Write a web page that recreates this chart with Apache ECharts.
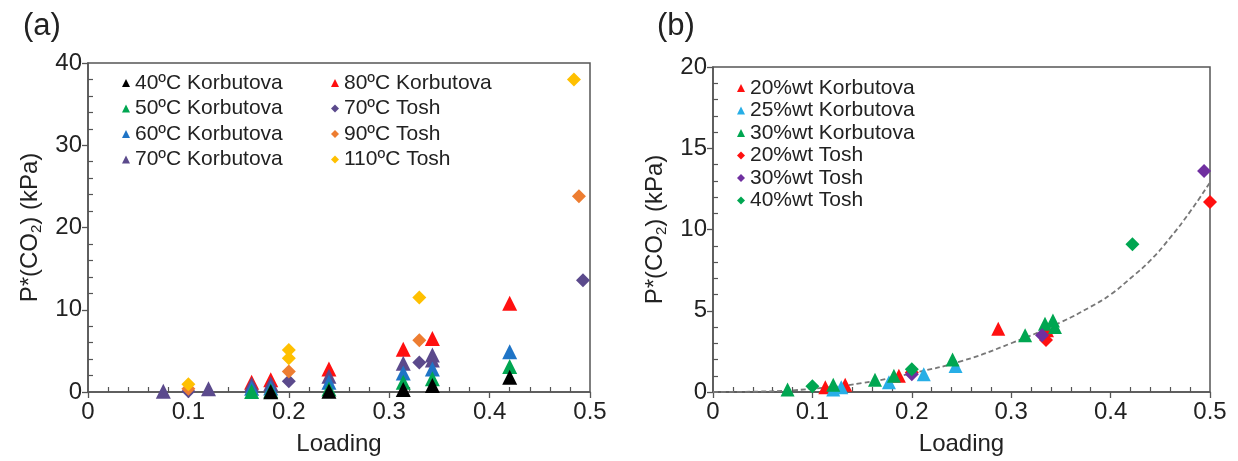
<!DOCTYPE html>
<html><head><meta charset="utf-8">
<script src="https://cdn.jsdelivr.net/npm/echarts@6/dist/echarts.min.js"></script>
<style>html,body{margin:0;padding:0;background:#fff}#c{width:1238px;height:461px}</style>
</head><body><div id="c"></div>
<script>
// ---- Panel (a) data: [loading, P*(CO2) kPa]
const k40 = [[0.182,0.03],[0.24,0.1],[0.314,0.3],[0.343,0.8],[0.42,1.8]];
const k50 = [[0.163,0.05],[0.182,0.15],[0.24,0.35],[0.314,1.2],[0.343,1.6],[0.42,3.1]];
const k60 = [[0.163,0.45],[0.182,0.5],[0.24,1.2],[0.314,2.3],[0.343,2.8],[0.42,4.9]];
const k70 = [[0.075,0.1],[0.12,0.4],[0.163,0.9],[0.182,1.0],[0.24,1.9],[0.314,3.5],[0.343,3.9],[0.343,4.5]];
const k80 = [[0.163,1.2],[0.182,1.5],[0.24,2.8],[0.314,5.2],[0.343,6.5],[0.42,10.8]];
const t70 = [[0.1,0.1],[0.2,1.3],[0.33,3.6],[0.493,13.6]];
const t90 = [[0.1,0.4],[0.2,2.5],[0.33,6.3],[0.489,23.8]];
const t110 = [[0.1,0.95],[0.2,4.1],[0.2,5.1],[0.33,11.5],[0.484,38]];
// ---- Panel (b) data
const w20k = [[0.113,0.3],[0.133,0.45],[0.187,1.0],[0.287,3.9],[0.336,3.8]];
const w25k = [[0.121,0.15],[0.129,0.3],[0.177,0.6],[0.212,1.1],[0.244,1.6]];
const w30k = [[0.075,0.15],[0.121,0.45],[0.163,0.75],[0.182,1.0],[0.241,2.0],[0.314,3.5],[0.334,4.2],[0.342,4.4],[0.344,4.0]];
const w20t = [[0.2,1.2],[0.335,3.2],[0.5,11.7]];
const w30t = [[0.2,1.1],[0.331,3.5],[0.494,13.6]];
const w40t = [[0.1,0.35],[0.2,1.4],[0.422,9.1]];
const fitCurve = [[0,0],[0.05,0.03],[0.1,0.2],[0.15,0.55],[0.2,1.15],[0.25,1.9],[0.3,3.0],[0.35,4.3],[0.38,5.25],[0.4,6.0],[0.42,7.0],[0.44,8.1],[0.46,9.5],[0.48,11.1],[0.5,12.9]];
// ---- axis ranges / ticks
const xRange = [0, 0.5, 0.1];
const yRangeA = [0, 40, 10];
const yRangeB = [0, 20, 5];

const FONT = '"Liberation Sans", Arial, sans-serif';
const AX = '#555';
const TICK = {show:true,length:6,lineStyle:{color:AX,width:1.3}};
const MINOR = {show:true,splitNumber:5,length:-5,lineStyle:{color:AX,width:1.2}};
function xAxis(gi){
  return {type:'value', gridIndex:gi, position:'bottom', min:xRange[0], max:xRange[1], interval:xRange[2],
    name:'Loading', nameLocation:'middle', nameGap:40,
    nameTextStyle:{fontFamily:FONT,fontSize:24,color:'#222'},
    axisLine:{show:true,onZero:false,lineStyle:{color:AX,width:1.5}},
    axisTick:TICK, minorTick:MINOR,
    splitLine:{show:false},
    axisLabel:{fontFamily:FONT,fontSize:24,color:'#222',margin:8}};
}
function yAxis(gi,r){
  return {type:'value', gridIndex:gi, position:'left', min:r[0], max:r[1], interval:r[2],
    name:'{a|P*(CO}{s|2}{a|) (kPa)}', nameLocation:'middle', nameGap:44,
    nameTextStyle:{rich:{a:{fontFamily:FONT,fontSize:24,color:'#222'},s:{fontFamily:FONT,fontSize:15,color:'#222',padding:[12,0,0,0]}}},
    axisLine:{show:true,onZero:false,lineStyle:{color:AX,width:1.5}},
    axisTick:TICK, minorTick:MINOR,
    splitLine:{show:false},
    axisLabel:{fontFamily:FONT,fontSize:24,color:'#222',margin:6}};
}
function sc(name,data,color,sym,size,gi){
  return {type:'scatter',name:name,data:data,xAxisIndex:gi,yAxisIndex:gi,
    symbol:sym,symbolSize:size,itemStyle:{color:color,opacity:1},clip:false};
}
const TRI='triangle', DIA='diamond';
const C = {black:'#000000',green:'#00a651',blue:'#1f74c6',purple:'#5b4a8c',red:'#ff1010',orange:'#ed7d31',gold:'#ffc000',cyan:'#27aee6',violet:'#7030a0'};
function legend(items,left,top,lh,gap){
  return {orient:'vertical',left:left,top:top,itemWidth:8,itemHeight:8,itemGap:gap,
    textStyle:{fontFamily:FONT,fontSize:21,color:'#222',lineHeight:lh,padding:[0,0,0,0]},
    data:items.map(d=>({name:d[0],icon:d[1]})),selectedMode:false};
}
const chart = echarts.init(document.getElementById('c'),null,{renderer:'canvas'});
chart.setOption({
  animation:false,
  backgroundColor:'#fff',
  title:[
    {text:'(a)',left:18,top:6,textStyle:{fontFamily:FONT,fontSize:31,fontWeight:'normal',color:'#222'}},
    {text:'(b)',left:652,top:6,textStyle:{fontFamily:FONT,fontSize:31,fontWeight:'normal',color:'#222'}}
  ],
  grid:[
    {left:88,right:648,top:63,bottom:66,show:true,borderColor:AX,borderWidth:1.5,backgroundColor:'transparent'},
    {left:713,right:28,top:67,bottom:66,show:true,borderColor:AX,borderWidth:1.5,backgroundColor:'transparent'}
  ],
  xAxis:[xAxis(0),xAxis(1)],
  yAxis:[yAxis(0,yRangeA),yAxis(1,yRangeB)],
  legend:[
    legend([['40ºC Korbutova',TRI],['50ºC Korbutova',TRI],['60ºC Korbutova',TRI],['70ºC Korbutova',TRI]],117,67,22,3.5),
    legend([['80ºC Korbutova',TRI],['70ºC Tosh',DIA],['90ºC Tosh',DIA],['110ºC Tosh',DIA]],326,67,22,3.5),
    legend([['20%wt Korbutova',TRI],['25%wt Korbutova',TRI],['30%wt Korbutova',TRI],['20%wt Tosh',DIA],['30%wt Tosh',DIA],['40%wt Tosh',DIA]],732,72,22,0.5)
  ],
  series:[
    sc('80ºC Korbutova',k80,C.red,TRI,15,0),
    sc('70ºC Korbutova',k70,C.purple,TRI,15,0),
    sc('60ºC Korbutova',k60,C.blue,TRI,15,0),
    sc('50ºC Korbutova',k50,C.green,TRI,15,0),
    sc('40ºC Korbutova',k40,C.black,TRI,15,0),
    sc('70ºC Tosh',t70,C.purple,DIA,14,0),
    sc('90ºC Tosh',t90,C.orange,DIA,14,0),
    sc('110ºC Tosh',t110,C.gold,DIA,14,0),
    {type:'line',name:'fit',data:fitCurve,xAxisIndex:1,yAxisIndex:1,smooth:0.5,symbol:'none',
      lineStyle:{color:'#777',width:1.8,type:[5,3]},z:1},
    sc('20%wt Korbutova',w20k,C.red,TRI,14,1),
    sc('25%wt Korbutova',w25k,C.cyan,TRI,14,1),
    sc('30%wt Korbutova',w30k,C.green,TRI,14,1),
    sc('20%wt Tosh',w20t,C.red,DIA,14,1),
    sc('30%wt Tosh',w30t,C.violet,DIA,14,1),
    sc('40%wt Tosh',w40t,C.green,DIA,14,1)
  ]
});
</script></body></html>
